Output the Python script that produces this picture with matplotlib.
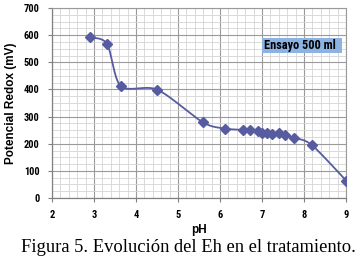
import numpy as np
import matplotlib
matplotlib.use("Agg")
import matplotlib.pyplot as plt
from matplotlib.patches import Rectangle
from matplotlib.ticker import MultipleLocator

# Datos
ph = [2.90, 3.31, 3.64, 4.51, 5.59, 6.11, 6.55, 6.71, 6.90, 7.01, 7.12, 7.24, 7.41, 7.54, 7.75, 8.18, 9.01]
eh = [592, 568, 412, 399, 279, 256, 251, 249, 246, 241, 240, 236, 238, 232, 222, 196, 63]

etiqueta = "Ensayo 500 ml"
titulo = "Figura 5. Evolución del Eh en el tratamiento."


def curva_suave(x, y, n=20, k=7):
    """Bezier entre puntos, parecido a la linea suavizada de Excel."""
    x = np.asarray(x, float)
    y = np.asarray(y, float)
    px = np.concatenate([[x[0]], x, [x[-1]]])
    py = np.concatenate([[y[0]], y, [y[-1]]])
    xs, ys = [], []
    t = np.linspace(0, 1, n)
    for i in range(1, len(px) - 2):
        p0, p1, p2, p3 = (np.array([px[j], py[j]]) for j in range(i - 1, i + 3))
        c1 = p1 + (p2 - p0) / k
        c2 = p2 - (p3 - p1) / k
        b = ((1 - t) ** 3)[:, None] * p1 + (3 * (1 - t) ** 2 * t)[:, None] * c1 \
            + (3 * (1 - t) * t ** 2)[:, None] * c2 + (t ** 3)[:, None] * p2
        xs.extend(b[:, 0])
        ys.extend(b[:, 1])
    return xs, ys


fig = plt.figure(figsize=(3.63, 2.67), dpi=100)
ax = fig.add_axes([52 / 363, 1 - 198 / 267, 294 / 363, 190 / 267])

color = "#575ca0"
sx, sy = curva_suave(ph, eh)
ax.plot(sx, sy, color=color, lw=1.3, zorder=3)
ax.plot(ph, eh, ls="none", marker="D", ms=5.5, color=color, zorder=4)

ax.set_xlim(2, 9)
ax.set_ylim(0, 700)
ax.xaxis.set_major_locator(MultipleLocator(1))
ax.xaxis.set_minor_locator(MultipleLocator(0.2))
ax.yaxis.set_major_locator(MultipleLocator(100))
ax.yaxis.set_minor_locator(MultipleLocator(25))
ax.grid(which="major", color="#9a9a9a", lw=0.8)
ax.grid(which="minor", color="#d4d4d4", lw=0.6)
ax.set_axisbelow(True)
ax.tick_params(which="minor", length=0)
ax.tick_params(which="major", length=3, color="#808080", labelsize=7.5, pad=6)
narrow = ["Roboto Condensed", "DejaVu Sans"]
for lab in ax.get_xticklabels() + ax.get_yticklabels():
    lab.set_fontweight("bold")
    lab.set_family(narrow)
for s in ["top", "right"]:
    ax.spines[s].set_color("#9a9a9a")
    ax.spines[s].set_linewidth(0.8)
for s in ["left", "bottom"]:
    ax.spines[s].set_color("#808080")
    ax.spines[s].set_linewidth(0.9)

ax.set_xlabel("pH", fontsize=8.5, fontweight="bold", labelpad=2.5,
              family=["Liberation Sans", "DejaVu Sans"])
ax.set_ylabel("Potencial Redox (mV)", fontsize=8.5, fontweight="bold", labelpad=5,
              family=["Liberation Sans", "DejaVu Sans"])

# recuadro de la leyenda (mas ancho que el texto, como en Excel)
ax.add_patch(Rectangle((0.714, 0.763), 0.272, 0.079, transform=ax.transAxes,
                       fc="#8db3e2", ec="none", zorder=5))
ax.text(0.721, 0.803, etiqueta, transform=ax.transAxes, fontsize=8.8,
        fontweight="bold", family=narrow, va="center", ha="left", zorder=6)

fig.text(0.52, 1 - 248 / 267, titulo, ha="center", va="center", fontsize=13.3,
         family=["Liberation Serif", "DejaVu Serif"])

fig.savefig("out.png", dpi=100)
